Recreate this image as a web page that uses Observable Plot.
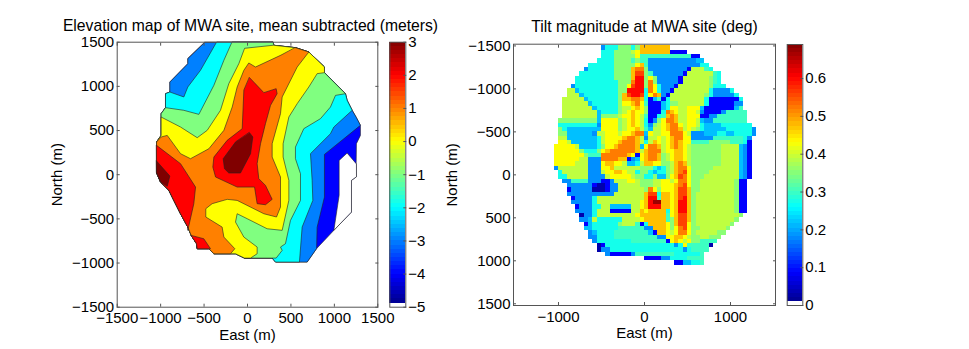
<!DOCTYPE html>
<html>
<head>
<meta charset="utf-8">
<script src="https://cdn.jsdelivr.net/npm/d3@7"></script>
<script src="https://cdn.jsdelivr.net/npm/@observablehq/plot@0.6"></script>
<style>
html,body{margin:0;padding:0;background:#fff}
#page{position:relative;width:969px;height:349px;overflow:hidden;font-family:"Liberation Sans",Arial,sans-serif}
#page svg{position:absolute;top:0;background:transparent}
</style>
</head>
<body>
<div id="page"></div>
<script>
// ---------- text ----------
const elevationTitle = "Elevation map of MWA site, mean subtracted (meters)";
const tiltTitle = "Tilt magnitude at MWA site (deg)";
const xLabel = "East (m)";
const yLabel = "North (m)";

// ---------- ticks ----------
const elevationTicks = [-1500, -1000, -500, 0, 500, 1000, 1500];
const tiltXTicks = [-1000, 0, 1000];
const tiltYTicks = [-1500, -1000, -500, 0, 500, 1000, 1500];
const elevationBarTicks = [-5, -4, -3, -2, -1, 0, 1, 2, 3];
const tiltBarTicks = [0, 0.1, 0.2, 0.3, 0.4, 0.5, 0.6];

// ---------- colour ----------
const jetStops = [0, 0.125, 0.375, 0.625, 0.875, 1];
const jetColors = ["#000080", "#0000ff", "#00ffff", "#ffff00", "#ff0000", "#800000"];
const elevationRange = [-5, 3];
const tiltRange = [0, 0.69];

// ---------- elevation: site boundary, east-north metres, clockwise ----------
const siteOutline = [
  [-491,1499],[295,1499],[303,1465],[552,1438],[706,1389],[886,1219],[886,1155],[1128,917],[1147,842],
  [1205,729],[1254,646],[1300,559],[1300,445],[1254,351],[1251,125],[1251,-26],[1197,-64],[1197,-423],
  [994,-630],[794,-838],[687,-989],[322,-989],[284,-944],[-35,-944],[-138,-895],[-387,-895],[-445,-838],
  [-579,-838],[-587,-781],[-648,-687],[-687,-593],[-771,-442],[-848,-291],[-905,-177],[-1001,-83],
  [-1047,23],[-1047,370],[-994,445],[-994,691],[-944,759],[-944,917],[-894,936],[-894,1049],[-687,1257],[-687,1314]
];
const ring = (a, b) => { const out = []; for (let i = a; ; i = (i + 1) % siteOutline.length) { out.push(siteOutline[i]); if (i === b) break; } return out; };

const whitePatch = [[1251,125],[1147,245],[1055,162],[1055,-234],[994,-630],[1197,-423],[1197,-64],[1251,-26]];

const levelMinus3 = [...ring(19,11),[886,230],[886,-253],[802,-593]];
const levelMinus2 = [...ring(1,9),[994,540],[955,464],[725,238],[744,-64],[752,-291],[629,-593],[598,-989],
  ...ring(21,41),[-733,880],[-687,993],[-541,1182],[-357,1499]];
const levelMinus1 = [...ring(1,7),[1013,898],[955,766],[840,634],[648,521],[552,313],[552,181],[610,11],[610,-291],
  [495,-517],[437,-781],[380,-819],[399,-857],[330,-944],...ring(22,39),[-733,729],[-560,683],[-387,1012],[-272,1295],[-180,1499]];
const level0 = [...ring(2,6),[802,1144],[706,993],[572,804],[476,653],[410,351],[410,200],[476,-64],[476,-291],[399,-630],
  [226,-612],[-4,-498],[-119,-442],[-138,-536],[-42,-706],[111,-819],[111,-895],[35,-944],...ring(23,37),
  [-994,653],[-771,540],[-579,419],[-464,502],[-311,729],[-215,1031],[-100,1257],[-35,1427]];
const level1 = [...ring(3,4),[572,1219],[399,880],[380,691],[284,351],[284,200],[380,-26],[380,-366],[334,-479],[188,-442],
  [-119,-291],[-234,-279],[-407,-328],[-480,-385],[-480,-479],[-292,-593],[-272,-706],[-146,-838],[-196,-895],...ring(25,36),
  [-994,427],[-924,445],[-771,238],[-656,181],[-445,294],[-272,502],[-176,766],[-119,993],[-42,1182],[15,1265],[92,1219],[380,1351]];
const level2Centre = [[23,1099],[188,929],[330,974],[341,917],[265,785],[207,578],[150,351],[111,125],[130,-45],[207,-121],
  [284,-279],[207,-340],[111,-328],[81,-140],[-119,-140],[-368,-26],[-399,87],[-387,200],[-234,389],[-61,521],[-42,955]];
const level2West = [[-1047,332],[-771,125],[-598,-140],[-618,-328],[-687,-630],...ring(30,35)];
const level2South = [[-648,-687],[-503,-725],[-426,-838],[-579,-838],[-587,-781]];
const level3Centre = [[23,476],[61,427],[35,238],[-81,19],[-215,19],[-265,68],[-280,181],[-138,370]];
const level3West = [[-1047,155],[-894,-15],[-924,-132],[-1001,-83],[-1047,23]];

const contourBands = [
  [-4, siteOutline],[-3, levelMinus3],[-2, levelMinus2],[-1, levelMinus1],[0, level0],[1, level1],
  [2, level2Centre],[2, level2West],[2, level2South],[3, level3Centre],[3, level3West]
];
const contourPoints = contourBands.flatMap(([level, pts], id) => pts.map(([x, y]) => ({id, level, x, y})));
const whitePoints = whitePatch.map(([x, y]) => ({x, y}));

// ---------- tilt: 50 m cells, each row = [first column, runs of a colour class] ----------
const tiltClasses = {a:0.03,b:0.086,c:0.183,d:0.216,e:0.272,f:0.30,g:0.352,h:0.388,i:0.43,j:0.474,k:0.52,l:0.56,m:0.60,n:0.67};
const tiltRows = [
  [20,"c e3 g3 e g j7"],
  [20,"e3 g4 h i j7 b4"],
  [20,"e3 g5 i f12 b2"],
  [19,"e4 g4 f g f2 c11 d2"],
  [17,"e6 g5 i j f c12 e2"],
  [16,"c e6 g4 j k2 g c9 b h3 f e"],
  [15,"e8 g4 j l2 g f c7 b h6 f e"],
  [14,"e9 g4 j m2 g i g c5 b h6 g f e"],
  [14,"e10 g3 k m2 g k g c5 b h6 g f e"],
  [13,"c e10 g2 i l m2 g k i e c3 b h7 g e3"],
  [12,"h2 d e9 g2 m4 e k i e c2 b h8 e c4 e"],
  [12,"h3 d e8 g j l m2 l e i k j c b h8 g e c5 e"],
  [11,"h5 d e7 g j2 k2 j e b d f b e h8 e b7 e"],
  [11,"h6 d e6 g i2 j k i f b3 d e g2 h6 e b6 c2"],
  [11,"h7 d e5 g h2 i j i g b3 d e i2 h2 i3 d b7 d f"],
  [11,"h8 d e4 g h i j i2 g b3 e k j i h2 i2 h c b4 c f5"],
  [11,"h8 d g4 h i2 j i h f b2 e f j k j h2 i3 b2 c2 f7"],
  [10,"g9 d i4 g h i j i h e b c g i k2 j h2 i2 h d c2 f8"],
  [10,"e9 c i4 g h i j i h e c g h i j k2 i h i2 h e d4 e7"],
  [10,"g e d8 i4 g h i2 j h f d h2 i j k2 j h i h g e d5 e6 c"],
  [10,"g2 d6 c h2 i3 h i2 j k2 d i h2 i2 k3 i h c3 d3 e2 d2 e4 c"],
  [10,"h2 d7 e h i4 j k2 j h c h2 i h i j k2 i2 c5 f7 e c"],
  [10,"i2 h d6 e h i3 j k3 j h e h j i h i j k j i2 f4 g5 f3 e b"],
  [9,"i5 h d4 e g i2 j k4 j d i k2 j h i j k j i h g7 h4 d c b"],
  [9,"i6 g e3 g i j k6 j h j k3 h i2 j2 i h g7 h4 d c b"],
  [9,"i7 g f3 k6 j i b i j k2 j g h i j2 i h g7 h4 d c b"],
  [9,"i6 h2 c3 k4 j2 b c d i j k2 j g h i j2 i h g7 h4 d c b"],
  [9,"i5 h3 c3 i j2 i2 h d2 e h j2 i2 g2 h j k j h g7 h4 d c b"],
  [9,"c h7 c3 i2 j h6 g3 e d e g h j k2 i g5 h6 d c b"],
  [10,"e h6 c3 h i2 j2 i h2 e g2 e d e2 g h j k l i g4 h7 d c b"],
  [10,"e2 h5 c4 h i5 h g2 e2 g d2 g i j l k i g3 h8 d c b"],
  [11,"c2 f4 c3 b2 c h3 i2 h g3 h2 i2 h i k2 i g2 h8 g b2"],
  [12,"c6 b a2 b c2 h5 g3 h2 i3 j k l i g2 h8 g b2"],
  [12,"b c5 a3 b c2 h6 g k i g i3 j l2 j g2 h8 g b2"],
  [12,"c11 h7 j l2 e j2 i j l2 j g h9 g b2"],
  [13,"b c4 e h11 j m2 f j2 i j l m j g h9 g b2"],
  [13,"c5 e h10 i j m n2 j2 i j m2 j g h9 g b2"],
  [14,"b c3 e2 h2 d5 h2 i j m3 j2 i j m2 j g h9 g b2"],
  [14,"c4 e h3 b5 h2 j i j4 e i j m2 j g h9 g b2"],
  [15,"a c2 e h9 i j6 f i j l2 j g h10 g"],
  [15,"c2 d h e6 h4 i j5 f g j l2 j g h9 g"],
  [16,"b d e6 g h3 f b e j4 i g j l2 i g h8 g"],
  [16,"d2 e6 f6 c2 j3 i g i k l i g2 h6 g"],
  [17,"c d e4 f8 d b j2 i h i k2 i g h5 g2"],
  [17,"c2 e4 f10 c2 i2 j2 i h g2 h2 g3"],
  [18,"c e8 f8 b i j i h i g2 f4"],
  [19,"a b e16 c e i f5 a"],
  [19,"a c2 e17 c e f4"],
  [21,"c b5 c f9 e6 f"],
  [30,"b4 c2 e4 f4"],
  [37,"b2 d2 e2 f"]
];
const tiltCells = tiltRows.flatMap(([start, runs], row) => {
  let col = start;
  return runs.split(" ").flatMap((run) => {
    const n = run.length > 1 ? +run.slice(1) : 1;
    const v = tiltClasses[run[0]];
    return d3.range(n).map(() => ({col: col++, row, v}));
  });
});

// ---------- colourbar steps ----------
const elevationSteps = d3.range(1, 64).map((i) => elevationRange[0] + (i * (elevationRange[1] - elevationRange[0])) / 64);
const tiltSteps = d3.range(1, 64).map((i) => tiltRange[0] + (i * (tiltRange[1] - tiltRange[0])) / 64);

// ---------- drawing ----------
const font = {fontFamily: '"Liberation Sans",Arial,sans-serif', fontSize: "15px", background: "transparent", color: "#000", overflow: "visible"};
const jetScale = ([lo, hi]) => ({type: "linear", domain: jetStops.map((t) => lo + t * (hi - lo)), range: jetColors});
const page = document.getElementById("page");
const place = (svg, left) => { svg.style.left = left + "px"; page.appendChild(svg); };
const boxStroke = "#555";
const plain = (d) => (d < 0 ? "\u2212" + -d : String(d));

function ticksAround(xs, ys, opts) {
  const common = {tickSize: -3, stroke: boxStroke, color: "#000", labelArrow: "none", fontSize: 15};
  return [
    Plot.axisX({...common, anchor: "bottom", ticks: xs, tickFormat: plain, tickPadding: 8.5, label: xLabel, labelAnchor: "center", labelOffset: opts.xOff}),
    Plot.axisX({...common, anchor: "top", ticks: xs, tickFormat: () => "", label: null}),
    Plot.axisY({...common, anchor: "left", ticks: ys, tickFormat: plain, tickPadding: 6, label: yLabel, labelAnchor: "center", labelOffset: opts.yOff}),
    Plot.axisY({...common, anchor: "right", ticks: ys, tickFormat: () => "", label: null}),
    Plot.frame({stroke: boxStroke, strokeWidth: 1})
  ];
}

// elevation map
place(Plot.plot({
  width: 400, height: 349, marginLeft: 116.7, marginRight: 22.7, marginTop: 41.7, marginBottom: 42.3,
  style: font,
  x: {domain: [-1500, 1500]},
  y: {domain: [-1500, 1500]},
  color: jetScale(elevationRange),
  marks: [
    Plot.line(contourPoints, {x: "x", y: "y", z: "id", fill: "level", stroke: "#222", strokeWidth: 0.6, curve: "linear-closed"}),
    Plot.line(whitePoints, {x: "x", y: "y", fill: "white", stroke: "#222", strokeWidth: 0.6, curve: "linear-closed"}),
    ...ticksAround(elevationTicks, elevationTicks, {xOff: 32.5, yOff: 66}),
    Plot.text([elevationTitle], {frameAnchor: "top", dx: 3, dy: -16.7, lineAnchor: "middle", fontSize: 15.7})
  ]
}), 0);

// elevation colourbar
place(Plot.plot({
  width: 60, height: 349, marginLeft: 4.3, marginRight: 39.7, marginTop: 41.7, marginBottom: 42.3,
  style: font,
  x: {domain: [0, 1], axis: null},
  y: {domain: elevationRange},
  color: jetScale(elevationRange),
  marks: [
    Plot.rect(elevationSteps, {x1: 0, x2: 1, y1: (d) => d, y2: (d) => d + (elevationRange[1] - elevationRange[0]) / 64, fill: (d) => d + (elevationRange[1] - elevationRange[0]) / 128, shapeRendering: "crispEdges"}),
    Plot.axisY({anchor: "right", ticks: elevationBarTicks, tickFormat: plain, tickSize: -3, tickPadding: 5.5, label: null, stroke: boxStroke, color: "#000", fontSize: 15}),
    Plot.frame({stroke: boxStroke, strokeWidth: 1})
  ]
}), 385);

// tilt map
place(Plot.plot({
  width: 352, height: 349, marginLeft: 83, marginRight: 7, marginTop: 43.7, marginBottom: 44,
  style: font,
  x: {domain: [-1523, 1523]},
  y: {domain: [-1520, 1520], reverse: true},
  color: jetScale(tiltRange),
  marks: [
    Plot.rect(tiltCells, {
      x1: (d) => -1500 + 50 * d.col, x2: (d) => -1450 + 50 * d.col,
      y1: (d) => -1500 + 50 * d.row, y2: (d) => -1450 + 50 * d.row,
      fill: "v", shapeRendering: "crispEdges", imageFilter: "blur(0.5px)"
    }),
    ...ticksAround(tiltXTicks, tiltYTicks, {xOff: 32, yOff: 67}),
    Plot.text([tiltTitle], {frameAnchor: "top", dy: -17, lineAnchor: "middle", fontSize: 15.7})
  ]
}), 430);

// tilt colourbar
place(Plot.plot({
  width: 60, height: 349, marginLeft: 4.7, marginRight: 39.7, marginTop: 44, marginBottom: 44,
  style: font,
  x: {domain: [0, 1], axis: null},
  y: {domain: tiltRange},
  color: jetScale(tiltRange),
  marks: [
    Plot.rect(tiltSteps, {x1: 0, x2: 1, y1: (d) => d, y2: (d) => d + (tiltRange[1] - tiltRange[0]) / 64, fill: (d) => d + (tiltRange[1] - tiltRange[0]) / 128, shapeRendering: "crispEdges"}),
    Plot.axisY({anchor: "right", ticks: tiltBarTicks, tickFormat: (d) => (d === 0 ? "0" : d.toFixed(1)), tickSize: -3, tickPadding: 5.5, label: null, stroke: boxStroke, color: "#000", fontSize: 15}),
    Plot.frame({stroke: boxStroke, strokeWidth: 1})
  ]
}), 782);
</script>
</body>
</html>
